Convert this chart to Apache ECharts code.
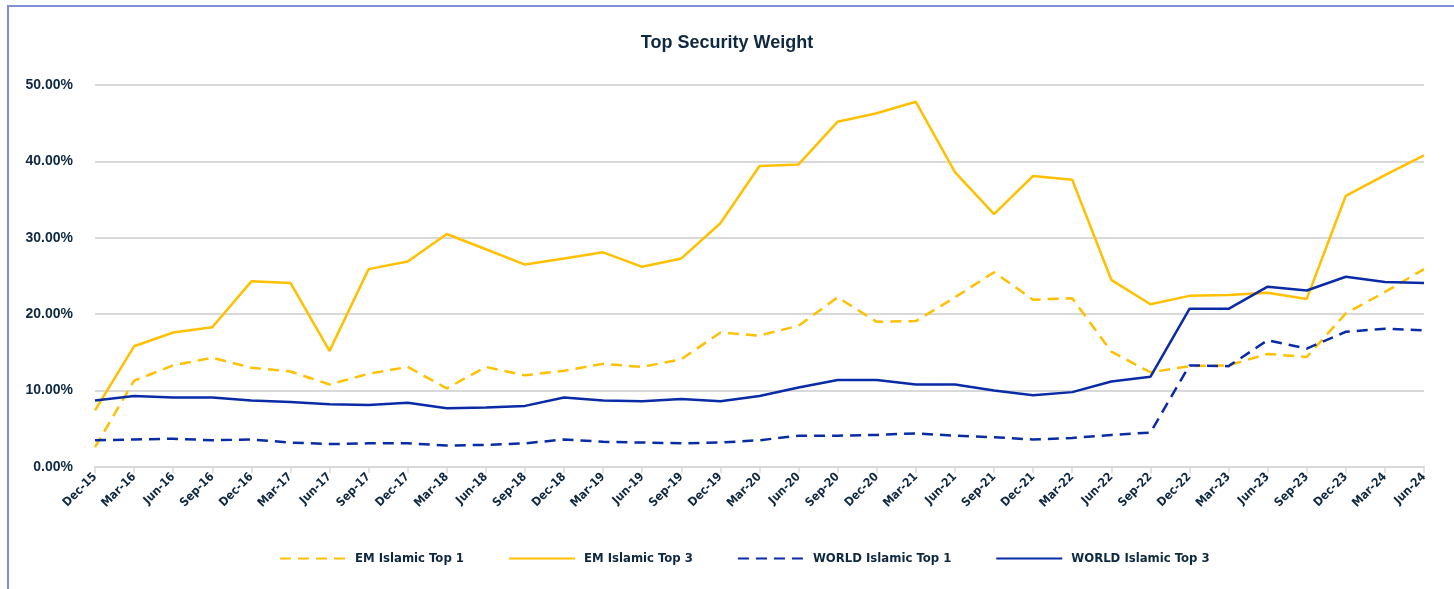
<!DOCTYPE html>
<html>
<head>
<meta charset="utf-8">
<script src="https://cdn.jsdelivr.net/npm/echarts@6/dist/echarts.min.js"></script>
<style>
  html, body { margin: 0; padding: 0; background: #fff; }
  #chart { width: 1454px; height: 589px; }
</style>
</head>
<body>
<div id="chart"></div>
<script>
// quarter-end labels
const quarters = [
    'Dec-15', 'Mar-16', 'Jun-16', 'Sep-16', 'Dec-16', 'Mar-17', 'Jun-17', 'Sep-17',
    'Dec-17', 'Mar-18', 'Jun-18', 'Sep-18', 'Dec-18', 'Mar-19', 'Jun-19', 'Sep-19',
    'Dec-19', 'Mar-20', 'Jun-20', 'Sep-20', 'Dec-20', 'Mar-21', 'Jun-21', 'Sep-21',
    'Dec-21', 'Mar-22', 'Jun-22', 'Sep-22', 'Dec-22', 'Mar-23', 'Jun-23', 'Sep-23',
    'Dec-23', 'Mar-24', 'Jun-24'
];

// weights in percent
const emTop1 = [
    2.6, 11.3, 13.3, 14.3, 13.0, 12.5, 10.8, 12.2, 13.1, 10.3, 13.1, 12.0,
    12.6, 13.5, 13.1, 14.1, 17.6, 17.2, 18.5, 22.2, 19.0, 19.1, 22.2, 25.5,
    21.9, 22.1, 15.1, 12.4, 13.2, 13.3, 14.8, 14.4, 20.1, 22.9, 25.9
];
const emTop3 = [
    7.4, 15.8, 17.6, 18.3, 24.3, 24.1, 15.2, 25.9, 26.9, 30.5, 28.5, 26.5,
    27.3, 28.1, 26.2, 27.3, 31.9, 39.4, 39.6, 45.2, 46.3, 47.8, 38.6, 33.1,
    38.1, 37.6, 24.5, 21.3, 22.4, 22.5, 22.8, 22.0, 35.5, 38.2, 40.8
];
const worldTop1 = [
    3.5, 3.6, 3.7, 3.5, 3.6, 3.2, 3.0, 3.1, 3.1, 2.8, 2.9, 3.1,
    3.6, 3.3, 3.2, 3.1, 3.2, 3.5, 4.1, 4.1, 4.2, 4.4, 4.1, 3.9,
    3.6, 3.8, 4.2, 4.5, 13.3, 13.2, 16.6, 15.5, 17.7, 18.1, 17.9
];
const worldTop3 = [
    8.7, 9.3, 9.1, 9.1, 8.7, 8.5, 8.2, 8.1, 8.4, 7.7, 7.8, 8.0,
    9.1, 8.7, 8.6, 8.9, 8.6, 9.3, 10.4, 11.4, 11.4, 10.8, 10.8, 10.0,
    9.4, 9.8, 11.2, 11.8, 20.7, 20.7, 23.6, 23.1, 24.9, 24.2, 24.1
];

const YELLOW = '#FFC000';
const BLUE = '#0A2BA6';
const TEXT = '#0E2841';
const NARROW = "'Liberation Sans Narrow', 'DejaVu Sans Condensed', sans-serif";

const makeLine = (name, data, color, dashed) => ({
    name: name,
    type: 'line',
    data: data,
    symbol: 'none',
    smooth: false,
    lineStyle: { color: color, width: 2.5, type: dashed ? [11, 7] : 'solid' },
    itemStyle: { color: color },
});

const chart = echarts.init(document.getElementById('chart'));
chart.setOption({
    animation: false,
    backgroundColor: '#fff',
    title: {
        text: 'Top Security Weight',
        left: 'center',
        top: 29,
        textStyle: { fontFamily: 'Liberation Sans', fontWeight: 'bold', fontSize: 18, color: TEXT },
    },
    graphic: [{
        type: 'polyline',
        shape: { points: [[8, 589], [8, 6], [1454, 6]] },
        style: { stroke: '#8090D6', lineWidth: 2, fill: null },
        silent: true,
    }],
    grid: { left: 95, right: 30, top: 85, bottom: 122 },
    legend: {
        bottom: 19,
        left: 274,
        itemWidth: 66,
        itemHeight: 12,
        itemGap: 44,
        itemStyle: { opacity: 0 },
        textStyle: { fontFamily: NARROW, fontWeight: 'bold', fontSize: 13, color: TEXT, padding: [0, 0, 0, 4] },
        data: ['EM Islamic Top 1', 'EM Islamic Top 3', 'WORLD Islamic Top 1', 'WORLD Islamic Top 3'],
    },
    xAxis: {
        type: 'category',
        data: quarters,
        boundaryGap: false,
        axisLine: { lineStyle: { color: '#D9D9D9', width: 2 } },
        axisTick: { show: true, length: 6, lineStyle: { color: '#D9D9D9', width: 1.5 } },
        axisLabel: {
            rotate: 45,
            interval: 0,
            margin: 8,
            fontFamily: NARROW,
            fontWeight: 'bold',
            fontSize: 12,
            color: TEXT,
        },
    },
    yAxis: {
        type: 'value',
        min: 0,
        max: 50,
        interval: 10,
        axisLine: { show: false },
        axisTick: { show: false },
        splitLine: { lineStyle: { color: '#D9D9D9', width: 2 } },
        axisLabel: {
            margin: 22,
            fontFamily: 'Liberation Sans',
            fontWeight: 'bold',
            fontSize: 14,
            color: TEXT,
            formatter: (v) => v.toFixed(2) + '%',
        },
    },
    series: [
        makeLine('EM Islamic Top 1', emTop1, YELLOW, true),
        makeLine('EM Islamic Top 3', emTop3, YELLOW, false),
        makeLine('WORLD Islamic Top 1', worldTop1, BLUE, true),
        makeLine('WORLD Islamic Top 3', worldTop3, BLUE, false),
    ],
});
</script>
</body>
</html>
